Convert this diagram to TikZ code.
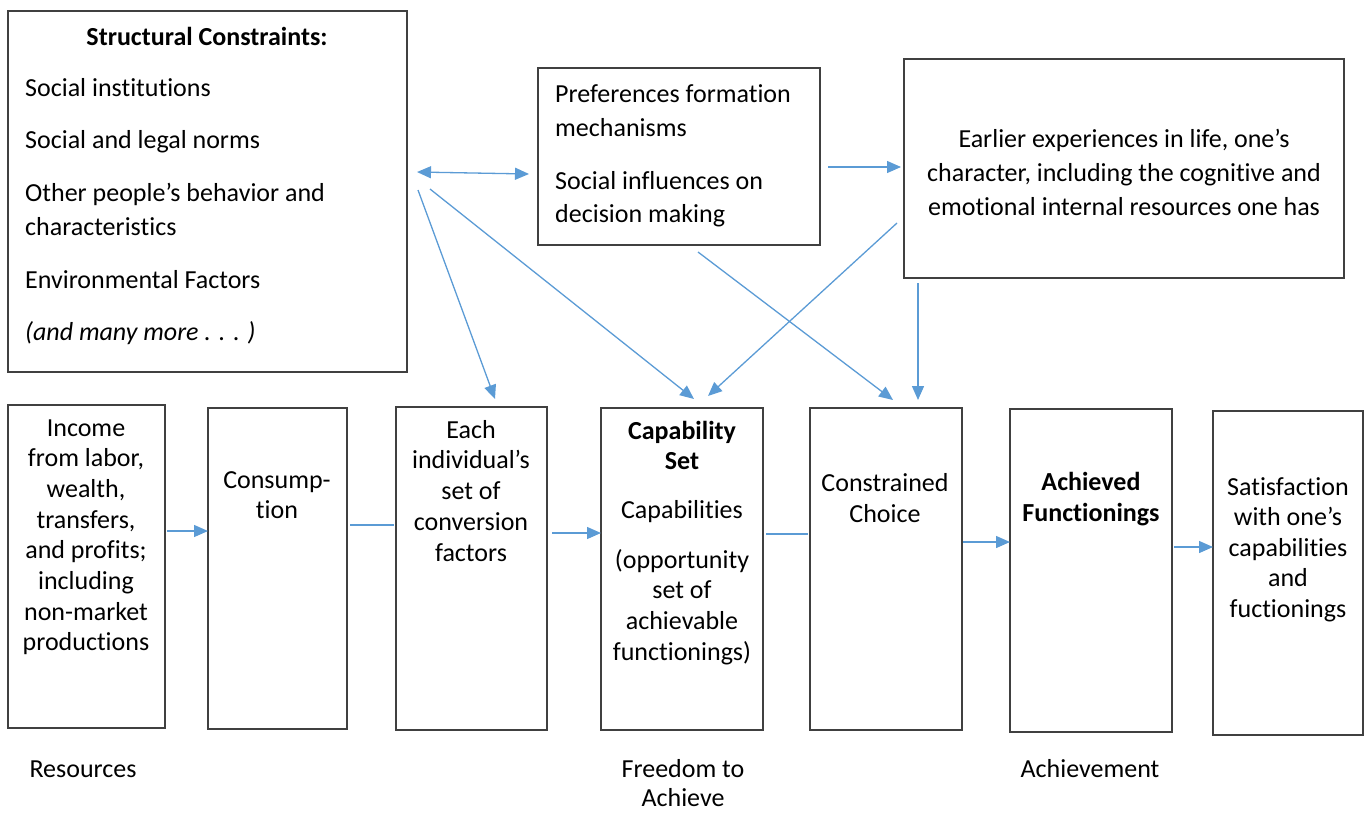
\documentclass[tikz,border=0pt]{standalone}
\usepackage{fontspec}
\setmainfont{Carlito}[Ligatures=NoCommon]
\usetikzlibrary{arrows.meta}
\definecolor{arr}{HTML}{5B9BD5}
\definecolor{boxc}{HTML}{404040}
\tikzset{
  box/.style={draw=boxc, line width=1.3pt, inner sep=0pt},
  txt/.style={inner sep=0pt, font=\fontsize{26}{30}\selectfont},
  conn/.style={draw=arr, line width=1.3pt, -{Triangle[length=14pt,width=12pt]}},
  plain/.style={draw=arr, line width=1.3pt},
  dconn/.style={draw=arr, line width=1.3pt, {Triangle[length=14pt,width=12pt]}-{Triangle[length=14pt,width=12pt]}}
}
\newcommand\colines[4]{%
  \foreach \t [count=\i from 0] in {#4} {\node[txt,anchor=base] at (#1, #2+\i*#3) {\t};}}
\begin{document}
\begin{tikzpicture}[x=1pt,y=-1pt]
\useasboundingbox (0,0) rectangle (1367,812);
% boxes
\draw[box] (8,11) rectangle (407,372);
\draw[box] (538,68) rectangle (820,245);
\draw[box] (904,59) rectangle (1344,278);
\draw[box] (8,405) rectangle (165,728);
\draw[box] (208,408) rectangle (347,729);
\draw[box] (396,407) rectangle (547,730);
\draw[box] (601,408) rectangle (763,730);
\draw[box] (810,408) rectangle (962,730);
\draw[box] (1010,409) rectangle (1172,732);
\draw[box] (1213,411) rectangle (1363,735);
% top-left text
\node[txt,anchor=base,font=\fontsize{26}{30}\selectfont\bfseries] (sctitle) at (207,45) {Structural Constraints:};
\node[txt,anchor=base west] (sc1) at (25,96) {Social institutions};
\node[txt,anchor=base west] (sc2) at (25,148) {Social and legal norms};
\node[txt,anchor=base west] (sc3) at (25,201) {Other people’s behavior and};
\node[txt,anchor=base west] (sc4) at (25,235) {characteristics};
\node[txt,anchor=base west] (sc5) at (25,288) {Environmental Factors};
\node[txt,anchor=base west,font=\fontsize{26}{30}\selectfont\itshape] (sc6) at (25,340) {(and many more . . . )};
% preferences
\node[txt,anchor=base west] (p1) at (555,102) {Preferences formation};
\node[txt,anchor=base west] (p2) at (555,136) {mechanisms};
\node[txt,anchor=base west] (p3) at (555,189) {Social influences on};
\node[txt,anchor=base west] (p4) at (555,222) {decision making};
% earlier
\colines{1124}{147}{34}{{Earlier experiences in life, one’s}, {character, including the cognitive and}, {emotional internal resources one has}}
% bottom boxes
\colines{86}{436}{30.7}{Income,{from labor,},{wealth,},{transfers,},{and profits;},including,non-market,productions}
\colines{277}{488}{30}{Consump-,tion}
\colines{471}{438}{30.8}{Each,individual’s,set of,conversion,factors}
\node[txt,anchor=base,font=\fontsize{26}{30}\selectfont\bfseries] at (682,439) {Capability};
\node[txt,anchor=base,font=\fontsize{26}{30}\selectfont\bfseries] at (682,469) {Set};
\node[txt,anchor=base] at (682,518) {Capabilities};
\colines{682}{568}{30.7}{{(opportunity},{set of},{achievable},{functionings)}}
\colines{885}{491}{31}{Constrained,Choice}
\node[txt,anchor=base,font=\fontsize{26}{30}\selectfont\bfseries] at (1091,490) {Achieved};
\node[txt,anchor=base,font=\fontsize{26}{30}\selectfont\bfseries] at (1091,521) {Functionings};
\colines{1288}{495}{30.5}{Satisfaction,with one’s,capabilities,and,fuctionings}
% labels
\node[txt,anchor=base] (lres) at (83,777) {Resources};
\node[txt,anchor=base] (lfree1) at (683,777) {Freedom to};
\node[txt,anchor=base] (lfree2) at (683,806) {Achieve};
\node[txt,anchor=base] (lach) at (1090,777) {Achievement};
% connector endpoints
\coordinate (a1) at (417,172); \coordinate (a2) at (529,174);
\coordinate (b1) at (828,167); \coordinate (b2) at (901,167);
\coordinate (c1) at (418,190); \coordinate (c2) at (495,399);
\coordinate (d1) at (430,189); \coordinate (d2) at (694,399);
\coordinate (e1) at (897,223); \coordinate (e2) at (708,396);
\coordinate (f1) at (698,252); \coordinate (f2) at (893,400);
\coordinate (g1) at (918,283); \coordinate (g2) at (918,400);
\coordinate (h1) at (167,531); \coordinate (h2) at (208,531);
\coordinate (i1) at (350,525); \coordinate (i2) at (394,525);
\coordinate (j1) at (552,533); \coordinate (j2) at (601,533);
\coordinate (k1) at (766,534); \coordinate (k2) at (808,534);
\coordinate (l1) at (963,542); \coordinate (l2) at (1010,542);
\coordinate (m1) at (1174,547); \coordinate (m2) at (1213,547);
\draw[dconn] (a1) -- (a2);
\draw[conn] (b1) -- (b2);
\draw[conn] (c1) -- (c2);
\draw[conn] (d1) -- (d2);
\draw[conn] (e1) -- (e2);
\draw[conn] (f1) -- (f2);
\draw[conn] (g1) -- (g2);
\draw[conn] (h1) -- (h2);
\draw[plain] (i1) -- (i2);
\draw[conn] (j1) -- (j2);
\draw[plain] (k1) -- (k2);
\draw[conn] (l1) -- (l2);
\draw[conn] (m1) -- (m2);
\end{tikzpicture}
\end{document}
